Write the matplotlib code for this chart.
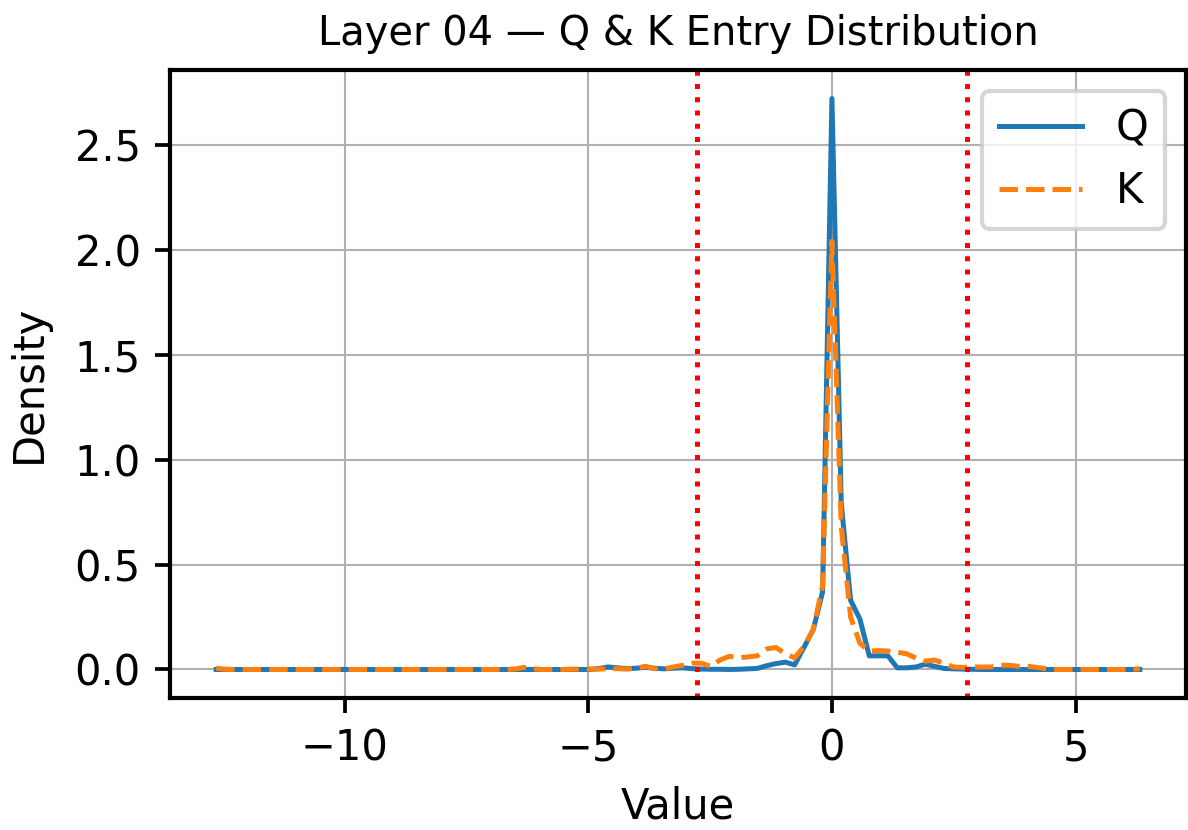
import numpy as np
import matplotlib
matplotlib.use('Agg')
import matplotlib.pyplot as plt

# центры бинов гистограммы (шаг ~0.19)
bin_step = 0.1915
bin_index = np.arange(-66, 34)
bin_centres = bin_index * bin_step

# плотность для Q
q_density = [
    0, 0, 0, 0, 0, 0, 0, 0, 0, 0,
    0, 0, 0, 0, 0, 0, 0, 0, 0, 0,
    0, 0, 0, 0, 0, 0, 0, 0, 0, 0,
    0, 0, 0, 0, 0, 0, 0, 0, 0, 0,
    0.000, 0.004, 0.012, 0.008, 0.004, 0.006, 0.010, 0.006, 0.003, 0.006,
    0.008, 0.004, 0.002, 0.001, 0.001, 0.000, 0.001, 0.003, 0.005, 0.018,
    0.028, 0.035, 0.022, 0.105, 0.190, 0.370, 2.720, 0.790, 0.330, 0.240,
    0.065, 0.065, 0.065, 0.008, 0.008, 0.012, 0.025, 0.015, 0.005, 0.003,
    0.002, 0.001, 0, 0, 0, 0, 0, 0, 0, 0,
    0, 0, 0, 0, 0, 0, 0, 0, 0, 0,
]

# плотность для K
k_density = [
    0.006, 0.001, 0, 0, 0, 0, 0, 0, 0, 0,
    0, 0, 0, 0, 0, 0, 0, 0, 0, 0,
    0, 0, 0, 0, 0, 0, 0, 0, 0, 0,
    0, 0, 0.002, 0.010, 0.003, 0, 0, 0, 0.001, 0.002,
    0.002, 0.002, 0.003, 0.004, 0.002, 0.006, 0.015, 0.004, 0.002, 0.012,
    0.020, 0.030, 0.030, 0.015, 0.045, 0.063, 0.056, 0.060, 0.065, 0.098,
    0.105, 0.075, 0.055, 0.110, 0.190, 0.400, 2.040, 0.680, 0.250, 0.125,
    0.088, 0.090, 0.088, 0.082, 0.075, 0.055, 0.040, 0.045, 0.030, 0.012,
    0.010, 0.012, 0.012, 0.012, 0.020, 0.020, 0.015, 0.015, 0.010, 0.003,
    0, 0, 0, 0, 0, 0, 0, 0, 0, 0.004,
]

# пороги (красные пунктирные линии)
thresholds = [-2.77, 2.77]

title = 'Layer 04 — Q & K Entry Distribution'

plt.rcParams['axes.linewidth'] = 1.0

fig = plt.figure(figsize=(3.96, 2.7667), dpi=300)
ax = fig.add_axes([0.1431, 0.159, 0.8552, 0.7566])

ax.plot(bin_centres, q_density, color='#1f77b4', lw=1.2, label='Q')
ax.plot(bin_centres, k_density, color='#ff7f0e', lw=1.2, ls='--', label='K')
for t in thresholds:
    ax.axvline(t, color='red', ls=':', lw=1.2)

ax.set_title(title, fontsize=9.6)
ax.set_xlabel('Value', fontsize=10)
ax.set_ylabel('Density', fontsize=10, labelpad=6)
ax.tick_params(labelsize=10, width=0.9)
ax.grid(True, lw=0.5, color='#b0b0b0')
ax.legend(loc='upper right', fontsize=10)

fig.savefig('out.png', dpi=300)
